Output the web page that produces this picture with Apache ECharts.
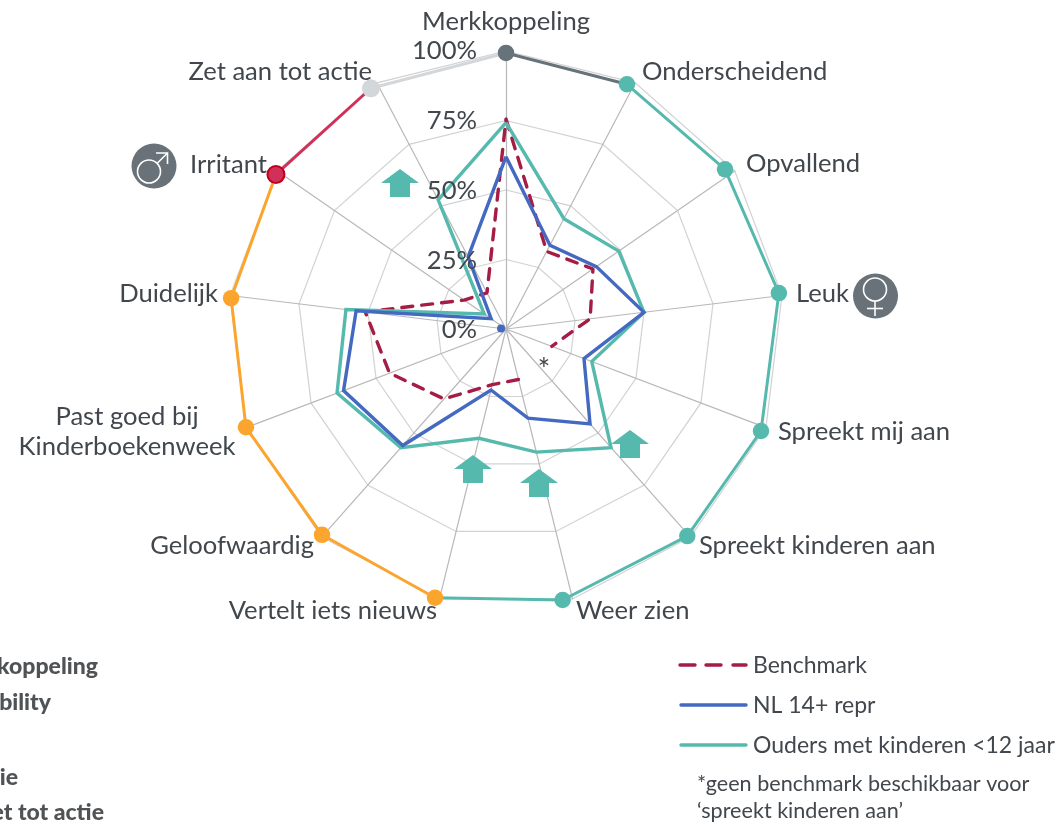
<!DOCTYPE html>
<html><head><meta charset="utf-8">
<style>html,body{margin:0;padding:0;background:#fff}#c{width:1059px;height:824px}</style>
<script src="https://cdn.jsdelivr.net/npm/echarts@6/dist/echarts.min.js"></script>
</head><body><div id="c"></div>
<script>
const categories = ['Merkkoppeling','Onderscheidend','Opvallend','Leuk','Spreekt mij aan','Spreekt kinderen aan','Weer zien','Vertelt iets nieuws','Geloofwaardig','Past goed bij\nKinderboekenweek','Duidelijk','Irritant','Zet aan tot actie'];
const outerRing = [99.3,98.2,97.5,99,98.8,99,99.6,100,99.3,100,99.5,99.7,99.3];
const outerAngles = [0,26.3,53.9,82.5,111.8,138.8,168.2,194.8,221.8,249.3,276.4,303.9,330.7];
const benchmark = [75.5,31.5,38,30.5,17.6,null,18.7,20.6,33.6,44.8,51,18.3,14.7];
const nlRepr = [62,34,39.5,50,30,45.6,33,22.6,56,62.5,54.3,6.5,29.3];
const ouders = [74.2,44.8,49.3,50,33,57,45.6,40.5,57,65,58,9.5,52.5];
const originDot = [1.8];
const radiusTicks = ['0%','25%','50%','75%','100%'];
const sideLabels = ['koppeling','bility','ie','et tot actie'];
const legendNames = ['Benchmark','NL 14+ repr','Ouders met kinderen <12 jaar'];

const cx=506, cy=329, R=278;
const TXT='#41474c', FONT='Lato';
const TEAL='#56b9ae', BLUE='#4469c0', CRIM='#a51c45', ORANGE='#fca52e', ROSE='#d0305a', LGREY='#d4d7da', DGREY='#66737a';

// label anchors: [x, y, align]
const catPos=[[506,22,'center'],[642,72,'left'],[746,164,'left'],[796,294,'left'],[778,432,'left'],[699,546,'left'],[576,611,'left'],[437,611,'right'],[314,546,'right'],[127,432,'center'],[218,294,'right'],[267,165,'right'],[372,72,'right']];
const arrows=[[400,169],[473,455],[539,469],[630,430]];

const n=categories.length;
const step=360/n;
// the radar component runs counter-clockwise, so its values are listed from the first axis backwards
const ccw=a=>[a[0],...a.slice(1).reverse()];
function seg(from,to,color,z){
  const data=[];
  for(let i=from;i<=to;i++) data.push([outerRing[i%n],i===n?360:outerAngles[i]]);
  return {type:'line',coordinateSystem:'polar',name:'seg'+from,data,z,clip:false,showSymbol:false,silent:true,
    lineStyle:{color,width:3}};
}
const closedBench=benchmark.map((v,i)=>[v,i*step]).concat([[benchmark[0],360]]);

function markerStyle(i){
  if(i===0) return {color:DGREY,size:16.5};
  if(i===12) return {color:LGREY,size:18};
  if(i===11) return {color:ROSE,size:17,border:'#c00018'};
  if(i>=7) return {color:ORANGE,size:16.5};
  return {color:TEAL,size:16.5};
}
const markerData=outerRing.map((v,i)=>{
  const m=markerStyle(i);
  return {value:[v,outerAngles[i]],symbolSize:m.size,itemStyle:{opacity:1,color:m.color,borderColor:m.border||m.color,borderWidth:m.border?2:0}};
});

const series=[
  {type:'line',coordinateSystem:'polar',name:legendNames[0],data:closedBench,z:3,showSymbol:false,connectNulls:false,silent:true,
    lineStyle:{color:CRIM,width:3.4,type:[11,9],cap:'round'}},
  {type:'radar',radarIndex:0,z:4,symbol:'none',silent:true,lineStyle:{color:TEAL,width:3.4,join:'miter'},
    data:[{name:legendNames[2],value:ccw(ouders)}]},
  {type:'radar',radarIndex:0,z:5,symbol:'none',silent:true,lineStyle:{color:BLUE,width:3.4,join:'miter'},
    data:[{name:legendNames[1],value:ccw(nlRepr)}]},
  seg(0,1,DGREY,6),
  seg(12,13,LGREY,6),
  seg(1,7,TEAL,7),
  seg(7,11,ORANGE,8),
  seg(11,12,ROSE,9),
  {type:'scatter',coordinateSystem:'polar',data:markerData,z:12,clip:false,silent:true,itemStyle:{opacity:1}},
  {type:'scatter',coordinateSystem:'polar',data:originDot.map(v=>[v,10*step]),symbolSize:8,itemStyle:{color:BLUE,opacity:1},z:6,silent:true}
];

const g=[];
const T=(text,x,y,align,size,opt)=>g.push(Object.assign({type:'text',x,y,z:20,silent:true,
  style:Object.assign({text,fill:TXT,font:`${size}px ${FONT}`,textAlign:align,textVerticalAlign:'middle',lineHeight:30},opt||{})}));

categories.forEach((c,i)=>T(c,catPos[i][0],catPos[i][1],catPos[i][2],25.6));
radiusTicks.forEach((t,i)=>T(t,477,330-i*69.7,'right',25.6));
T('*',544,370,'center',30);

// side list, cut by the page edge
[[98,667],[51,703],[18,778],[104,813]].forEach((p,i)=>T(sideLabels[i],p[0],p[1],'right',23,{font:`900 23px ${FONT}`,fill:'#505355'}));

// legend
const legY=[665,705,745];
[[680,695],[706,721],[733,746]].forEach(d=>g.push({type:'line',z:20,silent:true,shape:{x1:d[0],y1:legY[0],x2:d[1],y2:legY[0]},style:{stroke:CRIM,lineWidth:3.4,lineCap:'round'}}));
g.push({type:'line',z:20,silent:true,shape:{x1:681,y1:legY[1],x2:746,y2:legY[1]},style:{stroke:BLUE,lineWidth:3.4,lineCap:'round'}});
g.push({type:'line',z:20,silent:true,shape:{x1:681,y1:legY[2],x2:746,y2:legY[2]},style:{stroke:TEAL,lineWidth:3.4,lineCap:'round'}});
legendNames.forEach((t,i)=>T(t,753,legY[i]+1,'left',23,{}));
T('*geen benchmark beschikbaar voor',697,784,'left',21.6);
T('\u2018spreekt kinderen aan\u2019',697,811,'left',21.6);

// arrows
arrows.forEach(a=>g.push({type:'polygon',z:20,silent:true,shape:{points:[[a[0],a[1]],[a[0]+19,a[1]+14],[a[0]+10,a[1]+14],[a[0]+10,a[1]+28],[a[0]-10,a[1]+28],[a[0]-10,a[1]+14],[a[0]-19,a[1]+14]]},style:{fill:TEAL}}));

// gender badges
const W={stroke:'#fff',lineWidth:1.6,fill:null};
g.push({type:'circle',z:20,silent:true,shape:{cx:154,cy:166,r:22.5},style:{fill:'#687278'}});
g.push({type:'circle',z:21,silent:true,shape:{cx:149,cy:171.5,r:11.5},style:W});
g.push({type:'polyline',z:21,silent:true,shape:{points:[[157.5,163],[167.5,153]]},style:W});
g.push({type:'polyline',z:21,silent:true,shape:{points:[[156,153],[167.5,153],[167.5,164]]},style:W});
g.push({type:'circle',z:20,silent:true,shape:{cx:875.5,cy:296,r:22.5},style:{fill:'#687278'}});
g.push({type:'circle',z:21,silent:true,shape:{cx:875,cy:289.5,r:11.5},style:W});
g.push({type:'polyline',z:21,silent:true,shape:{points:[[875,301],[875,316]]},style:W});
g.push({type:'polyline',z:21,silent:true,shape:{points:[[867,308.5],[883,308.5]]},style:W});

const chart=echarts.init(document.getElementById('c'),null,{renderer:'canvas'});
chart.setOption({
  animation:false,backgroundColor:'#fff',
  radar:{center:[cx,cy],radius:R,startAngle:90,splitNumber:4,shape:'polygon',
    indicator:ccw(categories).map(c=>({name:c.replace('\n',' '),max:100,min:0})),
    axisName:{show:false},
    axisLine:{show:true,lineStyle:{color:'#b8b8b8',width:1.2}},
    axisTick:{show:false},axisLabel:{show:false},
    splitLine:{show:true,lineStyle:{color:'#d2d2d2',width:1.2}},
    splitArea:{show:false}},
  polar:{center:[cx,cy],radius:R},
  angleAxis:{type:'value',min:0,max:360,startAngle:90,clockwise:true,show:false},
  radiusAxis:{type:'value',min:0,max:100,show:false},
  series,graphic:g
});
</script></body></html>
